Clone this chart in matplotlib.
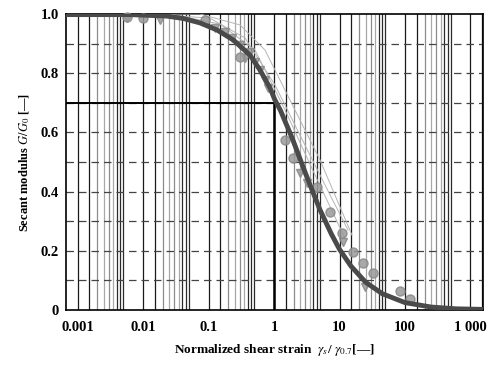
import matplotlib
matplotlib.use("Agg")
import matplotlib.pyplot as plt
import numpy as np

plt.rcParams['font.family'] = ['Liberation Serif', 'DejaVu Serif']
plt.rcParams['mathtext.fontset'] = 'stix'

# Main model curve
curve_x = [0.00067, 0.0063, 0.023, 0.041, 0.074, 0.135, 0.24, 0.43, 0.61, 0.87,
           1.03, 1.25, 1.9, 2.6, 3.3, 5.0, 7.5, 10, 15, 25, 45, 100, 250, 600, 1550]
curve_g = [0.998, 0.998, 0.993, 0.985, 0.97, 0.946, 0.912, 0.861, 0.811, 0.75,
           0.71, 0.675, 0.58, 0.50, 0.44, 0.34, 0.257, 0.205, 0.148, 0.094,
           0.055, 0.025, 0.010, 0.004, 0.002]

# Thin test curves
t1_x = [0.0128, 0.074, 0.303, 0.729, 1.755, 5.04, 15.5]
t1_g = [1.0, 1.0, 0.963, 0.878, 0.709, 0.507, 0.253]
t2_x = [0.0128, 0.105, 0.361, 1.036, 2.49, 7.16, 13.5]
t2_g = [1.0, 0.986, 0.919, 0.760, 0.591, 0.389, 0.270]
t3_x = [0.0258, 0.150, 0.513, 1.472, 4.23, 12.1]
t3_g = [1.0, 0.966, 0.878, 0.676, 0.456, 0.243]

# Measured points
tri_x = [0.0057, 0.0182, 0.1257, 0.1786, 0.2286, 0.303, 0.361, 0.430, 0.513,
         0.611, 0.729, 0.810, 2.49, 3.19, 11.3, 24.5]
tri_g = [0.986, 0.980, 0.953, 0.939, 0.919, 0.895, 0.851, 0.872, 0.838,
         0.811, 0.777, 0.750, 0.463, 0.429, 0.230, 0.078]
cir_x = [0.0057, 0.0100, 0.0885, 0.303, 1.472, 1.95, 4.53, 7.16, 10.9, 16.1,
         22.8, 32.5, 83.9, 119]
cir_g = [0.990, 0.986, 0.980, 0.855, 0.574, 0.514, 0.416, 0.331, 0.260, 0.196,
         0.159, 0.125, 0.064, 0.037]

xticks = [0.001, 0.01, 0.1, 1, 10, 100, 1000]
xticklabels = ['0.001', '0.01', '0.1', '1', '10', '100', '1 000']
yticks = [0, 0.2, 0.4, 0.6, 0.8, 1.0]
yticklabels = ['0', '0.2', '0.4', '0.6', '0.8', '1.0']
ref_x = 1.0
ref_g = 0.7

fig = plt.figure(figsize=(4.94, 3.65), dpi=100)
ax = fig.add_axes([66/494, 1-310/365, (483-66)/494, (310-14)/365])
ax.set_xscale('log')
xmin, xmax = 0.000667, 1552
ax.set_xlim(xmin, xmax)
ax.set_ylim(0, 1.0)

# vertical grid lines (1, 1.5, 2 ... 5 in each decade)
grid_cols = {1: '#1a1a1a', 1.5: '#1a1a1a', 2: '#8c8c8c', 2.5: '#a8a8a8',
             3: '#8c8c8c', 3.5: '#a8a8a8', 4: '#2a2a2a', 4.5: '#2a2a2a',
             5: '#2a2a2a'}
for e in range(-4, 4):
    base = 10.0**e
    for m, c in grid_cols.items():
        v = m*base
        if xmin < v < xmax:
            ax.axvline(v, color=c, lw=0.9, zorder=1)

# horizontal dashed lines
for g in [0.1, 0.2, 0.3, 0.4, 0.5, 0.6, 0.7, 0.8, 0.9]:
    ax.axhline(g, color='#444444', lw=0.9, dashes=(6, 4), zorder=1)

# reference lines
ax.plot([xmin, ref_x], [ref_g, ref_g], color='black', lw=1.4, zorder=2)
ax.plot([ref_x, ref_x], [0, ref_g], color='black', lw=1.8, zorder=2)

for tx, tg in [(t1_x, t1_g), (t2_x, t2_g), (t3_x, t3_g)]:
    ax.plot(tx, tg, color='#b5b5b5', lw=0.7, zorder=3)

ax.plot(tri_x, tri_g, linestyle='none', marker='v', ms=6, color='#9a9a9a',
        mec='#888888', alpha=0.85, zorder=4, clip_on=False)
ax.plot(cir_x, cir_g, linestyle='none', marker='o', ms=6.5, color='#9a9a9a',
        mec='#888888', alpha=0.85, zorder=4, clip_on=False)

ax.plot(curve_x, curve_g, color='#4a4a4a', lw=3.5, zorder=5,
        solid_capstyle='round')

ax.set_xticks(xticks)
ax.set_xticklabels(xticklabels)
ax.xaxis.set_minor_locator(matplotlib.ticker.NullLocator())
ax.set_yticks(yticks)
ax.set_yticklabels(yticklabels)
ax.tick_params(axis='both', length=0, labelsize=10.5)
ax.tick_params(axis='x', pad=8)
ax.tick_params(axis='y', pad=5)
for lab in ax.get_xticklabels() + ax.get_yticklabels():
    lab.set_fontweight('bold')

for s in ax.spines.values():
    s.set_linewidth(1.2)
    s.set_color('black')

ax.set_xlabel(r'Normalized shear strain  $\gamma_s$/ $\gamma_{0.7}$[—]',
              fontsize=9.5, fontweight='bold', labelpad=6)
ax.set_ylabel(r'Secant modulus $G/G_0$ [—]', fontsize=9, fontweight='bold',
              labelpad=6)

fig.savefig('out.png', dpi=100)
